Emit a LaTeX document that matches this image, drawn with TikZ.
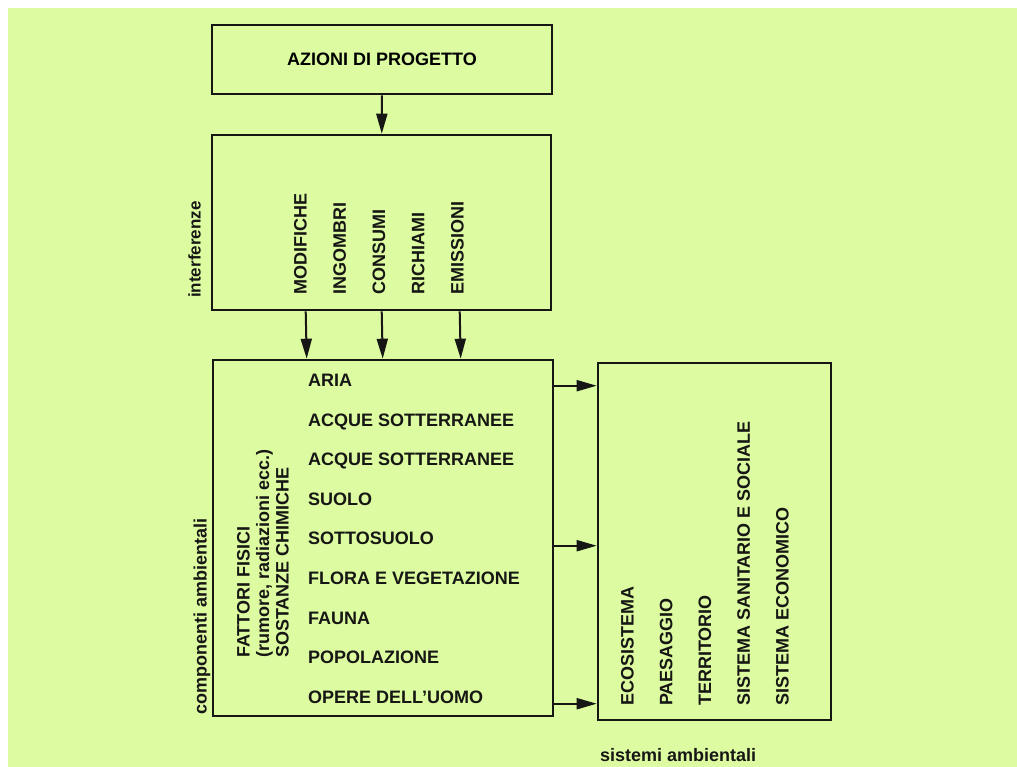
\documentclass[tikz,border=0pt]{standalone}
\usepackage{fontspec}
\setmainfont{Liberation Sans}
\usepackage{xcolor}
\usetikzlibrary{arrows.meta,positioning}
\definecolor{PAPER}{RGB}{221,252,161}
\definecolor{INK}{RGB}{22,22,20}

\begin{document}
\begin{tikzpicture}[x=1pt,y=-1pt,font=\fontsize{18}{19.5}\selectfont\bfseries,>={Triangle[length=20pt,width=11pt]}]
    \tikzset{box/.style={draw=INK,line width=2.6pt,inner sep=0pt},
      lbl/.style={INK,inner sep=0pt,text height=13pt,text depth=0pt},
      vlbl/.style={lbl,rotate=90,anchor=west},
      link/.style={->,INK,line width=2pt}}
    \useasboundingbox (0,0) rectangle (1017,767);
    \fill[white] (0,0) rectangle (1017,767);
    \fill[PAPER] (8,8) rectangle (1017,767);
    % boxes
    \node[box,minimum width=340pt,minimum height=69pt] (act) at (382,59.5) {AZIONI DI PROGETTO};
    \node[box,minimum width=339pt,minimum height=175pt] (interf) at (381.5,222.5) {};
    \node[box,minimum width=340pt,minimum height=356pt] (comp) at (383,538) {};
    \node[box,minimum width=233pt,minimum height=357pt] (sist) at (714.5,541.5) {};
    % texts
    \foreach \t [count=\i from 0] in {MODIFICHE,INGOMBRI,CONSUMI,RICHIAMI,EMISSIONI}
      \node[vlbl] (int\i) at ({300+39.25*\i},295) {\t};
    \foreach \t [count=\i from 0] in {ARIA,ACQUE SOTTERRANEE,ACQUE SOTTERRANEE,SUOLO,SOTTOSUOLO,FLORA E VEGETAZIONE,FAUNA,POPOLAZIONE,OPERE DELL'UOMO}
      \node[lbl,anchor=west] (cmp\i) at (308,{380+39.6*\i}) {\t};
    \node[INK,inner sep=0pt,rotate=90,anchor=west,align=left] (fis) at (263,658)
      {FATTORI FISICI\\(rumore, radiazioni ecc.)\\SOSTANZE CHIMICHE};
    \foreach \t [count=\i from 0] in {ECOSISTEMA,PAESAGGIO,TERRITORIO,SISTEMA SANITARIO E SOCIALE,SISTEMA ECONOMICO}
      \node[vlbl] (sys\i) at ({627+38.75*\i},706) {\t};
    \node[vlbl,font=\fontsize{17}{19}\selectfont\bfseries] (lint) at (194,298) {interferenze};
    \node[vlbl] (lcomp) at (200,715) {componenti ambientali};
    \node[lbl,anchor=west] (lsist) at (600,755) {sistemi ambientali};
    % connectors
    \draw[link] (act) -- (interf);
    \foreach \dx in {95,171,249}
      \draw[link] ([xshift=\dx pt]interf.south west) -- ([xshift=\dx pt]comp.north west);
    \foreach \dy in {27,187,345}
      \draw[link] ([yshift=-\dy pt]comp.north east) -- ([yshift=-\dy pt]comp.north east -| sist.west);
  \end{tikzpicture}
\end{document}
